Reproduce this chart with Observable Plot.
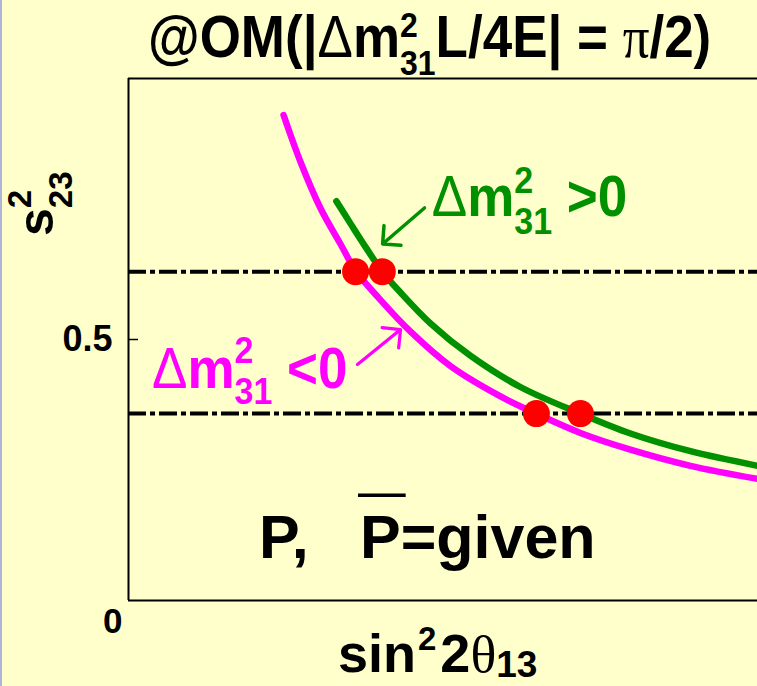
<!DOCTYPE html>
<html><head><meta charset="utf-8">
<script src="https://cdn.jsdelivr.net/npm/d3@7"></script>
<script src="https://cdn.jsdelivr.net/npm/@observablehq/plot@0.6"></script>
<style>
html,body{margin:0;padding:0;background:#FFFFCC;}
body{width:757px;height:686px;overflow:hidden;position:relative;}
#chart svg{display:block;}
#edge{position:absolute;left:0;top:0;width:2px;height:686px;background:#B0B4D8;}
</style></head><body><div id="chart"></div><div id="edge"></div>
<script>
// ---- data ----
const magentaX = [0.0493, 0.0547, 0.0610, 0.0674, 0.0722, 0.0801, 0.0897, 0.1024, 0.1183, 0.1297, 0.1437, 0.1596, 0.1787, 0.2000];
const magentaY = [0.930, 0.840, 0.752, 0.683, 0.632, 0.576, 0.515, 0.449, 0.391, 0.358, 0.321, 0.289, 0.258, 0.233];
const greenX = [0.0661, 0.0706, 0.0754, 0.0807, 0.0865, 0.0960, 0.1087, 0.1246, 0.1437, 0.1596, 0.1787, 0.2000];
const greenY = [0.765, 0.722, 0.677, 0.630, 0.590, 0.531, 0.469, 0.409, 0.358, 0.320, 0.286, 0.258];
const dotX = [0.0722, 0.0807, 0.1297, 0.1437];
const dotY = [0.630, 0.630, 0.358, 0.358];
const levels = [0.630, 0.358];
const yTickValues = [0.5];
const originTick = [0];
const greenArrowX1 = [0.0941], greenArrowY1 = [0.752], greenArrowX2 = [0.0808], greenArrowY2 = [0.683];
const magArrowX1 = [0.0728], magArrowY1 = [0.452], magArrowX2 = [0.0865], magArrowY2 = [0.519];
const labelX = [0.0966, 0.00763];   // Δm²31 >0 , Δm²31 <0
const labelY = [0.7347, 0.4065];
const pLabelX = [0.04165], pLabelY = [0.0802];

const GREEN = "#009000", MAGENTA = "#FF00FF", RED = "#FF0000";
const SANS = "'Liberation Sans', Arial, Helvetica, sans-serif";
const SERIF = "'Liberation Serif', 'Times New Roman', serif";

const plot = Plot.plot({
  width: 757, height: 686,
  marginLeft: 128, marginRight: 0, marginTop: 78, marginBottom: 86,
  x: {domain: [0, 0.2], axis: null},
  y: {domain: [0, 1]},
  style: {background: "transparent", color: "black", fontFamily: SANS, overflow: "visible"},
  marks: [
    Plot.ruleX([0], {stroke: "black", strokeWidth: 2}),
    Plot.ruleY([0, 1], {stroke: "black", strokeWidth: 2}),
    Plot.axisY({ticks: yTickValues, tickSize: -10, tickFormat: () => "", strokeWidth: 1.5, label: null}),
    Plot.axisY({ticks: yTickValues, tickSize: 0, tickPadding: 16, tickFormat: (d) => String(d), fontSize: 36, fontWeight: "bold", label: null}),
    Plot.axisY({ticks: originTick, tickSize: 0, tickPadding: 6, dy: 21, tickFormat: (d) => String(d), fontSize: 35, fontWeight: "bold", label: null}),
    Plot.line(greenX, {x: greenX, y: greenY, stroke: GREEN, strokeWidth: 6.5, curve: "catmull-rom", strokeLinecap: "round"}),
    Plot.line(magentaX, {x: magentaX, y: magentaY, stroke: MAGENTA, strokeWidth: 6.5, curve: "catmull-rom", strokeLinecap: "round"}),
    Plot.ruleY(levels, {stroke: "black", strokeWidth: 4, strokeDasharray: "18,4,5,4"}),
    Plot.dot(dotX, {x: dotX, y: dotY, r: 13.5, fill: RED, stroke: null}),
    Plot.arrow(greenArrowX1, {x1: greenArrowX1, y1: greenArrowY1, x2: greenArrowX2, y2: greenArrowY2, stroke: GREEN, strokeWidth: 3.5, headAngle: 90, headLength: 12}),
    Plot.arrow(magArrowX1, {x1: magArrowX1, y1: magArrowY1, x2: magArrowX2, y2: magArrowY2, stroke: MAGENTA, strokeWidth: 3.2, headAngle: 90, headLength: 12})
  ]
});
document.getElementById("chart").append(plot);
const svg = d3.select(plot);
const xs = plot.scale("x"), ys = plot.scale("y");

function rich(x, y, {rotate = 0, sy = 1, fill = "black"}, segs) {
  const g = svg.append("g")
    .attr("transform", `translate(${x},${y}) rotate(${rotate}) scale(1,${sy})`)
    .attr("fill", fill)
    .attr("text-anchor", "start");
  let cx = 0;
  for (const s of segs) {
    if (s.at != null) cx = s.at;
    const parts = s.stack || [[s.t, s.size, 0]];
    let w = 0;
    for (const [t, size, dy] of parts) {
      const el = g.append("text")
        .attr("x", cx).attr("y", dy)
        .attr("text-anchor", "start")
        .attr("font-size", size)
        .attr("font-family", s.serif ? SERIF : SANS)
        .attr("font-weight", (s.normal || s.serif) ? "normal" : "bold")
        .style("white-space", "pre")
        .text(t);
      w = Math.max(w, el.node().getComputedTextLength());
    }
    if (s.overline) {
      g.append("line")
        .attr("x1", cx + s.overline.x0).attr("x2", cx + w + s.overline.x1)
        .attr("y1", s.overline.y).attr("y2", s.overline.y)
        .attr("stroke", fill).attr("stroke-width", s.overline.w);
    }
    cx += w + (s.gap || 0);
  }
  return g;
}

// title
rich(148, 57, {sy: 1.12}, [
  {t: "@OM(|", size: 53},
  {t: "Δ", size: 53, normal: true},
  {t: "m", size: 53},
  {stack: [["2", 32, -18], ["31", 32, 16]]},
  {t: "L/4E| = ", size: 53},
  {t: "π", size: 53, serif: true},
  {t: "/2)", size: 53}
]);

// curve labels
rich(xs.apply(labelX[0]), ys.apply(labelY[0]), {sy: 1.08, fill: GREEN}, [
  {t: "Δ", size: 53, normal: true},
  {t: "m", size: 53},
  {stack: [["2", 34, -22], ["31", 34, 16]]},
  {t: " >0", size: 53}
]);
rich(xs.apply(labelX[1]), ys.apply(labelY[1]), {sy: 1.08, fill: MAGENTA}, [
  {t: "Δ", size: 53, normal: true},
  {t: "m", size: 53},
  {stack: [["2", 34, -23], ["31", 34, 15]]},
  {t: " <0", size: 53}
]);

// P, Pbar = given
rich(xs.apply(pLabelX[0]), ys.apply(pLabelY[0]), {sy: 1.0}, [
  {t: "P,", size: 61},
  {t: "P", size: 61, at: 101, overline: {y: -63, x0: -2, x1: 5, w: 3.5}},
  {t: "=given", size: 61}
]);

// x axis label
rich(338, 672, {sy: 0.98}, [
  {t: "sin", size: 54, gap: 2},
  {stack: [["2", 33, -22]], gap: 4},
  {t: "2", size: 54},
  {t: "θ", size: 54, serif: true},
  {stack: [["13", 37, 5]]}
]);

// y axis label (rotated)
rich(53, 236, {rotate: -90}, [
  {t: "s", size: 50},
  {stack: [["2", 33, -22], ["23", 33, 19]]}
]);
</script></body></html>
